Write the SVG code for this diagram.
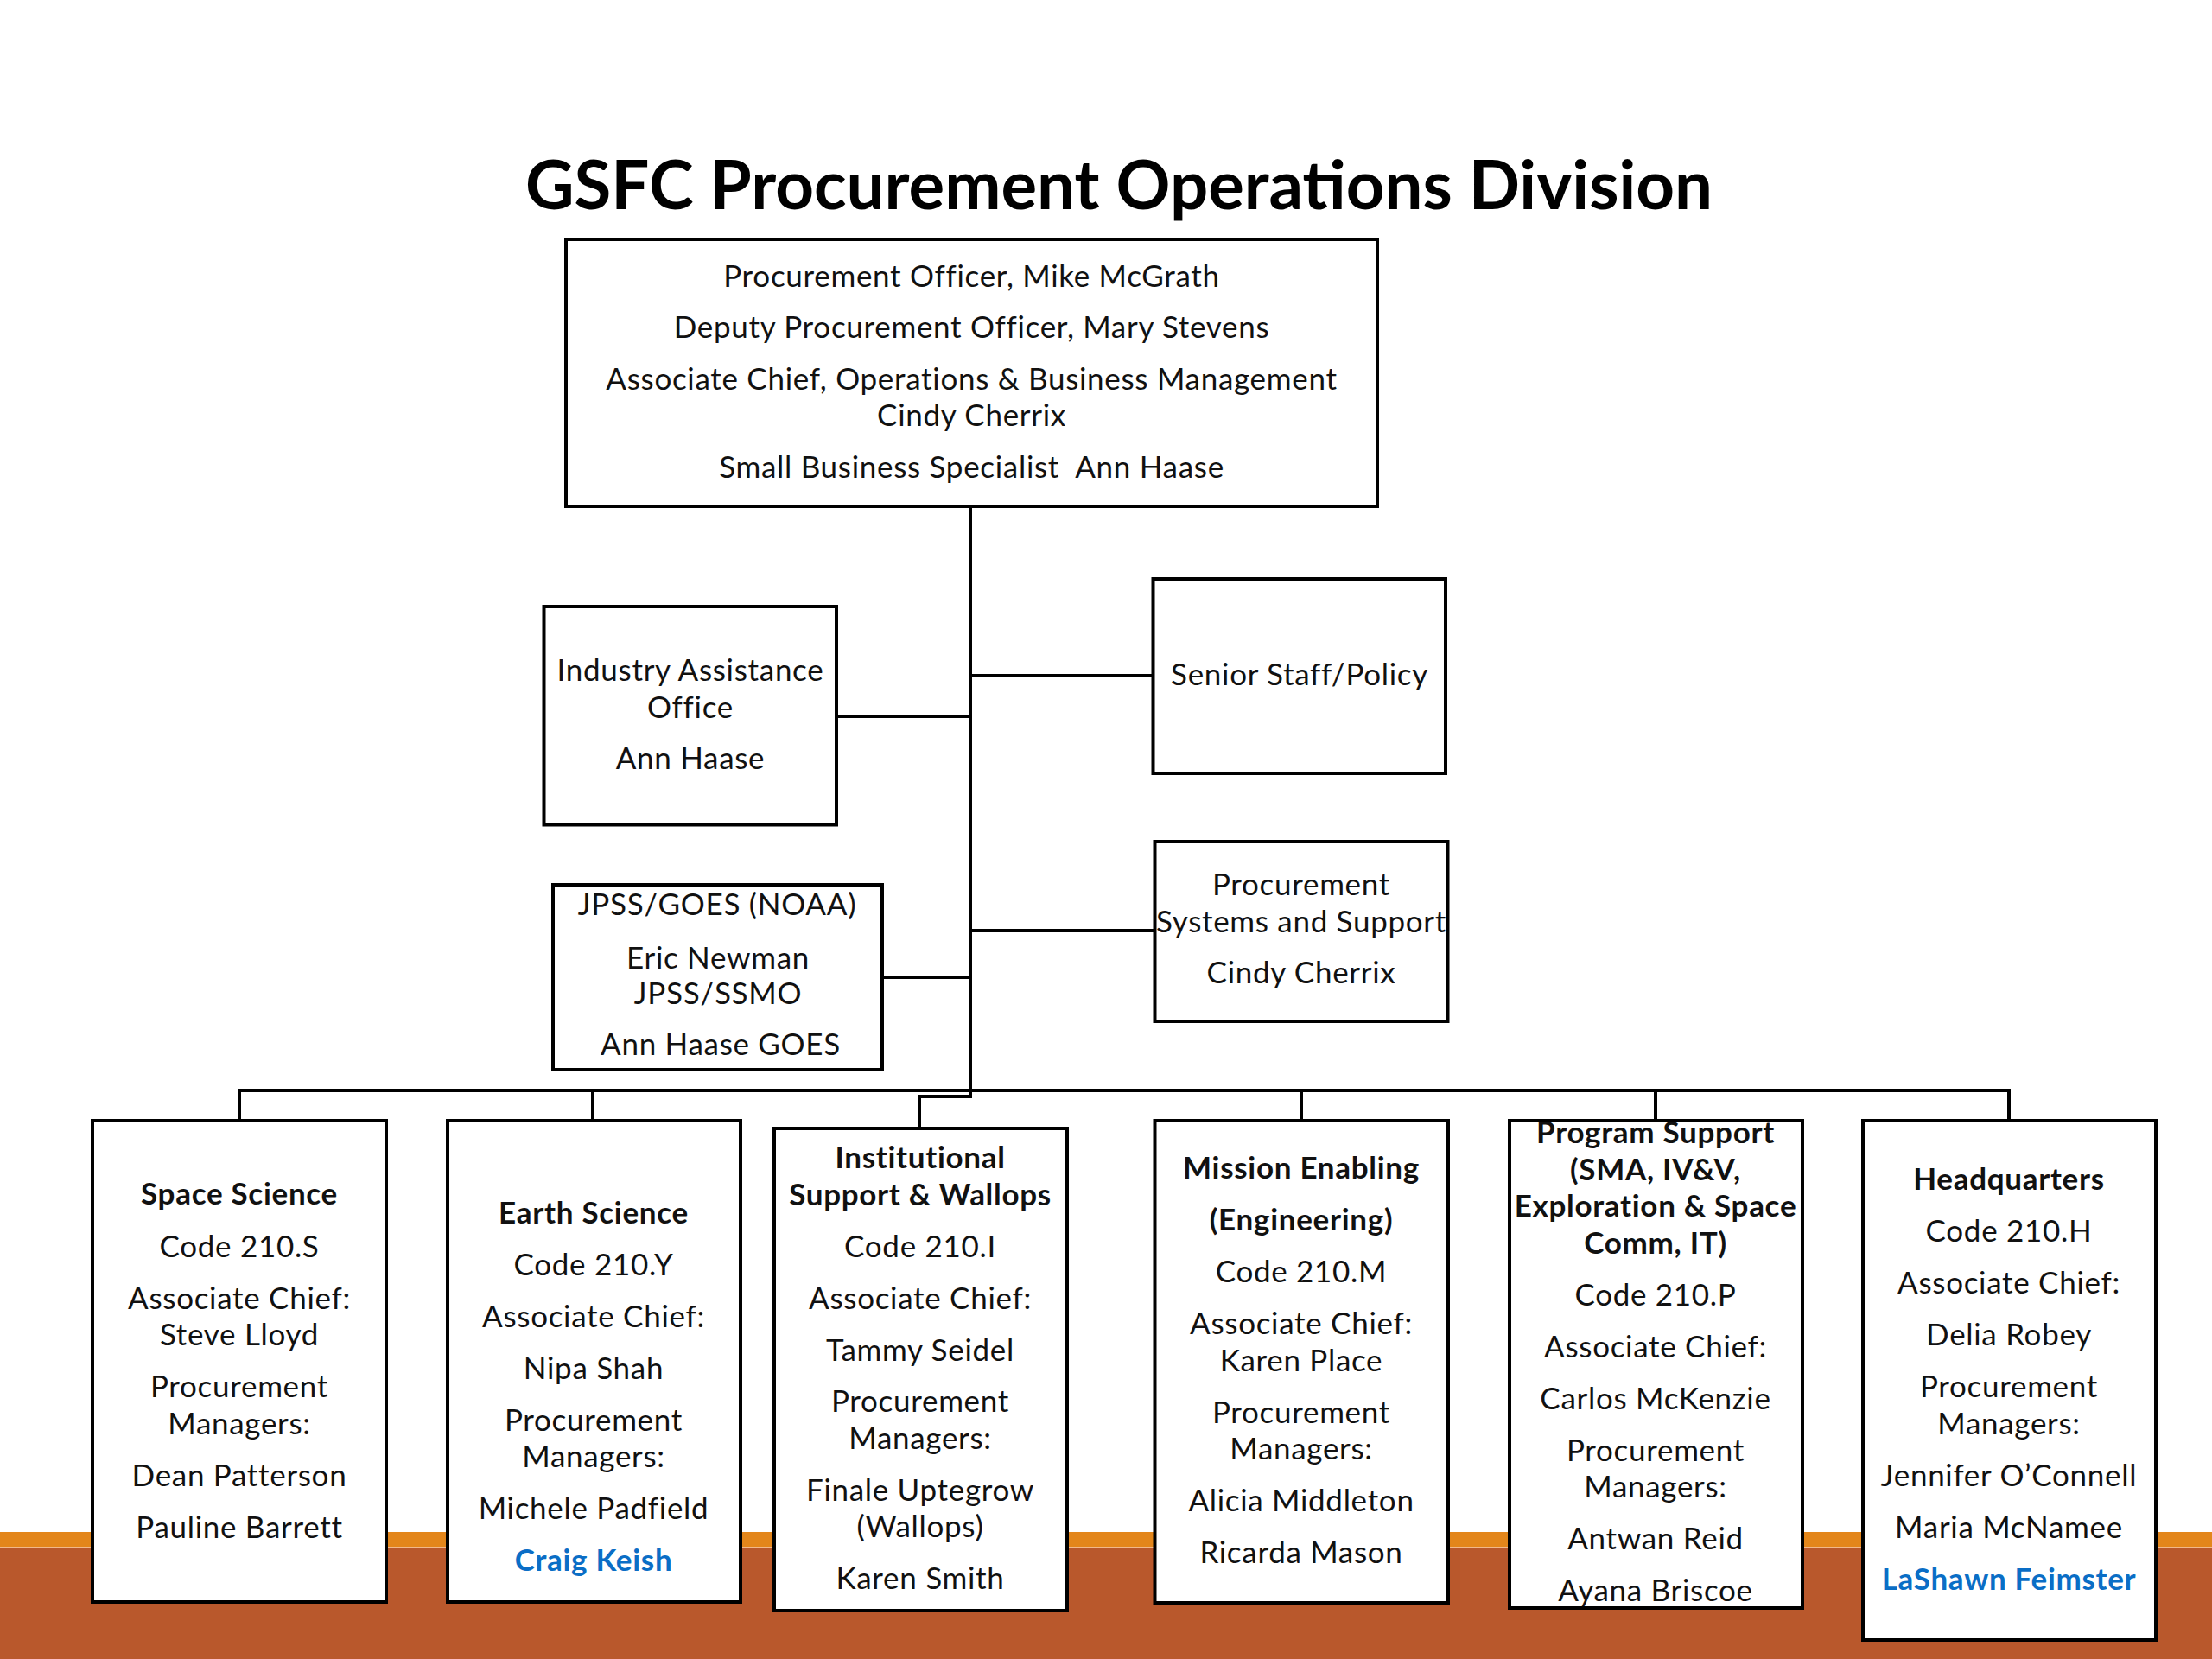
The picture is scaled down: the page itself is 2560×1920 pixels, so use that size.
<svg xmlns="http://www.w3.org/2000/svg" width="2560" height="1920" viewBox="0 0 2560 1920">
<style>
.box{fill:#fff;stroke:#000;stroke-width:4}
.t{font-family:Lato,"Liberation Sans",sans-serif;font-size:35px;letter-spacing:0.7px;fill:#111;text-anchor:middle}
.b{font-weight:bold}
.blue{fill:#0a6ec6;font-weight:bold}
.title{font-family:Lato,"Liberation Sans",sans-serif;font-size:78px;font-weight:bold;fill:#000;text-anchor:middle}
.c{stroke:#000;stroke-width:4;fill:none}
</style>
<rect x="0" y="0" width="2560" height="1920" fill="#fff"/>
<g id="band">
<rect x="0" y="1773" width="2560" height="17" fill="#E3861B"/>
<rect x="0" y="1790" width="2560" height="2" fill="#F2B98A"/>
<rect x="0" y="1792" width="2560" height="128" fill="#B9582C"/>
</g>
<text class="title" x="1295" y="242">GSFC Procurement Operations Division</text>
<g id="connectors">
<line class="c" x1="1123" y1="586" x2="1123" y2="1271" stroke-width="5"/>
<line class="c" x1="1123" y1="782" x2="1334" y2="782"/>
<line class="c" x1="968" y1="829" x2="1123" y2="829"/>
<line class="c" x1="1123" y1="1077" x2="1336" y2="1077"/>
<line class="c" x1="1021" y1="1131" x2="1123" y2="1131"/>
<line class="c" x1="277" y1="1262" x2="2325" y2="1262"/>
<line class="c" x1="277" y1="1260" x2="277" y2="1297"/>
<line class="c" x1="686" y1="1260" x2="686" y2="1297"/>
<line class="c" x1="1506" y1="1260" x2="1506" y2="1297"/>
<line class="c" x1="1916" y1="1260" x2="1916" y2="1297"/>
<line class="c" x1="2325" y1="1260" x2="2325" y2="1297"/>
<path class="c" d="M1123 1269 H1064 V1306"/>
</g>
<g id="top">
<rect class="box" x="655" y="277" width="939" height="309"/>
<text class="t" x="1124.5" y="332">Procurement Officer, Mike McGrath</text>
<text class="t" x="1124.5" y="391">Deputy Procurement Officer, Mary Stevens</text>
<text class="t" x="1124.5" y="451">Associate Chief, Operations &amp; Business Management</text>
<text class="t" x="1124.5" y="493">Cindy Cherrix</text>
<text class="t" x="1124.5" y="553">Small Business Specialist&#160; Ann Haase</text>
</g>
<g id="industry">
<rect class="box" x="629.5" y="702" width="338.5" height="252.5"/>
<text class="t" x="799" y="788">Industry Assistance</text>
<text class="t" x="799" y="831">Office</text>
<text class="t" x="799" y="890">Ann Haase</text>
</g>
<g id="senior">
<rect class="box" x="1334.5" y="670" width="338.5" height="225"/>
<text class="t" x="1504" y="793">Senior Staff/Policy</text>
</g>
<g id="jpss">
<rect class="box" x="640" y="1024" width="381" height="214"/>
<text class="t" x="830" y="1059">JPSS/GOES (NOAA)</text>
<text class="t" x="831" y="1120.5">Eric Newman</text>
<text class="t" x="831" y="1162">JPSS/SSMO</text>
<text class="t" x="834" y="1221">Ann Haase GOES</text>
</g>
<g id="procsys">
<rect class="box" x="1336.5" y="974" width="339" height="208"/>
<text class="t" x="1506" y="1035.5">Procurement</text>
<text class="t" x="1506" y="1079">Systems and Support</text>
<text class="t" x="1506" y="1138">Cindy Cherrix</text>
</g>
<g id="space">
<rect class="box" x="107" y="1297" width="340" height="557"/>
<text class="t b" x="277" y="1394">Space Science</text>
<text class="t" x="277" y="1455">Code 210.S</text>
<text class="t" x="277" y="1515">Associate Chief:</text>
<text class="t" x="277" y="1557">Steve Lloyd</text>
<text class="t" x="277" y="1617">Procurement</text>
<text class="t" x="277" y="1660">Managers:</text>
<text class="t" x="277" y="1720">Dean Patterson</text>
<text class="t" x="277" y="1780">Pauline Barrett</text>
</g>
<g id="earth">
<rect class="box" x="518" y="1297" width="339" height="557"/>
<text class="t b" x="687" y="1416">Earth Science</text>
<text class="t" x="687" y="1476">Code 210.Y</text>
<text class="t" x="687" y="1536">Associate Chief:</text>
<text class="t" x="687" y="1596">Nipa Shah</text>
<text class="t" x="687" y="1656">Procurement</text>
<text class="t" x="687" y="1698">Managers:</text>
<text class="t" x="687" y="1758">Michele Padfield</text>
<text class="t blue" x="687" y="1818">Craig Keish</text>
</g>
<g id="institutional">
<rect class="box" x="896" y="1306" width="339" height="558"/>
<text class="t b" x="1065" y="1352">Institutional</text>
<text class="t b" x="1065" y="1394.5">Support &amp; Wallops</text>
<text class="t" x="1065" y="1455">Code 210.I</text>
<text class="t" x="1065" y="1515">Associate Chief:</text>
<text class="t" x="1065" y="1575">Tammy Seidel</text>
<text class="t" x="1065" y="1634">Procurement</text>
<text class="t" x="1065" y="1677">Managers:</text>
<text class="t" x="1065" y="1737">Finale Uptegrow</text>
<text class="t" x="1065" y="1779">(Wallops)</text>
<text class="t" x="1065" y="1839">Karen Smith</text>
</g>
<g id="mission">
<rect class="box" x="1336.5" y="1297" width="339.5" height="558"/>
<text class="t b" x="1506" y="1364">Mission Enabling</text>
<text class="t b" x="1506" y="1424">(Engineering)</text>
<text class="t" x="1506" y="1484">Code 210.M</text>
<text class="t" x="1506" y="1544">Associate Chief:</text>
<text class="t" x="1506" y="1586.5">Karen Place</text>
<text class="t" x="1506" y="1646.5">Procurement</text>
<text class="t" x="1506" y="1689">Managers:</text>
<text class="t" x="1506" y="1749">Alicia Middleton</text>
<text class="t" x="1506" y="1809">Ricarda Mason</text>
</g>
<g id="program">
<rect class="box" x="1747" y="1297" width="339" height="564"/>
<text class="t b" x="1916" y="1323">Program Support</text>
<text class="t b" x="1916" y="1365.5">(SMA, IV&amp;V,</text>
<text class="t b" x="1916" y="1408">Exploration &amp; Space</text>
<text class="t b" x="1916" y="1450.5">Comm, IT)</text>
<text class="t" x="1916" y="1510.5">Code 210.P</text>
<text class="t" x="1916" y="1570.5">Associate Chief:</text>
<text class="t" x="1916" y="1630.5">Carlos McKenzie</text>
<text class="t" x="1916" y="1690.5">Procurement</text>
<text class="t" x="1916" y="1733">Managers:</text>
<text class="t" x="1916" y="1793">Antwan Reid</text>
<text class="t" x="1916" y="1853">Ayana Briscoe</text>
</g>
<g id="hq">
<rect class="box" x="2156" y="1297" width="339" height="601"/>
<text class="t b" x="2325" y="1377">Headquarters</text>
<text class="t" x="2325" y="1437">Code 210.H</text>
<text class="t" x="2325" y="1497">Associate Chief:</text>
<text class="t" x="2325" y="1557">Delia Robey</text>
<text class="t" x="2325" y="1617">Procurement</text>
<text class="t" x="2325" y="1659.5">Managers:</text>
<text class="t" x="2325" y="1719.5">Jennifer O’Connell</text>
<text class="t" x="2325" y="1779.5">Maria McNamee</text>
<text class="t blue" x="2325" y="1839.5">LaShawn Feimster</text>
</g>
</svg>
